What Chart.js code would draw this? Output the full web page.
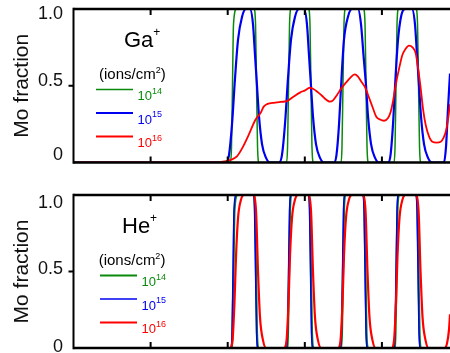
<!DOCTYPE html>
<html lang="en">
<head>
    <meta charset="UTF-8">
    <title>Mo fraction depth profiles</title>
    <style>
        html, body { margin: 0; padding: 0; overflow: hidden; background: #fff; }
        .panel { position: absolute; left: 0; width: 450px; }
        .panel canvas { display: block; }
        #gaPanel { top: -15px; height: 191px; }
        #hePanel { top: 176px; height: 192px; }
    </style>
    <script src="https://cdn.jsdelivr.net/npm/chart.js"></script>
</head>
<body>
    <div class="panel" id="gaPanel"><canvas id="gaChart" width="450" height="191"></canvas></div>
    <div class="panel" id="hePanel"><canvas id="heChart" width="450" height="192"></canvas></div>

    <script>
        // depth axis has tick marks only, no numbers
        const xTicks = [10, 20, 30, 40];
        const xMax = 48.83;
        const yTicks = [0, 0.5, 1];
        const yTickLabels = ['0', '0.5', '1.0'];
        const doseExps = ['14', '15', '16'];   // 10^x ions/cm2
        const colors = ['#0a8a0a', '#0000f0', '#ff0000'];

        // Ga+ : [depth, Mo fraction]
        const gaDose14 = [[0,0],[20.36,0],[20.49,0.1],[20.62,0.5],[20.75,0.9],[21.14,1],
            [23.41,1],[23.61,0.9],[23.74,0.5],[23.87,0.1],[24.06,0],
            [27.63,0],[27.76,0.1],[27.89,0.5],[28.02,0.9],[28.21,1],
            [30.48,1],[30.67,0.9],[30.80,0.5],[30.93,0.1],[31.13,0],
            [34.70,0],[34.82,0.1],[34.95,0.5],[35.08,0.9],[35.28,1],
            [37.61,1],[37.81,0.9],[37.94,0.5],[38.07,0.1],[38.26,0],
            [41.57,0],[41.70,0.1],[41.83,0.5],[41.96,0.9],[42.15,1],
            [44.42,1],[44.62,0.9],[44.75,0.5],[44.88,0.1],[45.07,0],
            [48.83,0]];
        const gaDose15 = [[0,0],[19.78,0],[20.17,0.05],[20.56,0.25],[20.95,0.55],[21.34,0.8],[21.86,0.95],[22.37,1],
            [22.89,1],[23.28,0.9],[23.54,0.7],[23.80,0.5],[24.06,0.3],[24.45,0.12],[24.97,0.03],[25.49,0],
            [26.65,0],[27.04,0.05],[27.43,0.25],[27.82,0.55],[28.21,0.8],[28.73,0.95],[29.25,1],
            [29.90,1],[30.28,0.9],[30.54,0.7],[30.80,0.5],[31.06,0.3],[31.45,0.12],[31.97,0.03],[32.49,0],
            [33.78,0],[34.11,0.05],[34.44,0.25],[34.76,0.55],[35.08,0.8],[35.60,0.95],[36.12,1],
            [36.90,1],[37.29,0.9],[37.61,0.7],[37.94,0.5],[38.20,0.3],[38.59,0.12],[39.11,0.03],[39.62,0],
            [40.79,0],[41.12,0.05],[41.44,0.25],[41.76,0.55],[42.09,0.8],[42.48,0.95],[43.00,1],
            [43.90,1],[44.29,0.9],[44.55,0.7],[44.81,0.5],[45.07,0.3],[45.46,0.12],[45.98,0.03],[46.50,0],
            [48.05,0],[48.31,0.1],[48.57,0.35],[48.83,0.58]];
        const gaDose16 = [[0,0],[18.5,0],[19.65,0.008],[20.56,0.02],[21.2,0.04],[21.85,0.09],[22.72,0.18],
            [23.58,0.277],[24.23,0.32],[24.67,0.364],[25.1,0.38],[26.14,0.39],[26.91,0.395],[27.69,0.40],
            [28.56,0.43],[29.42,0.457],[30.03,0.47],[30.64,0.487],[31.06,0.48],[31.71,0.457],[32.23,0.435],
            [32.75,0.41],[33.23,0.396],[33.66,0.405],[34.18,0.44],[34.73,0.483],[35.34,0.52],[35.86,0.55],
            [36.47,0.574],[36.9,0.56],[37.29,0.53],[37.77,0.494],[38.2,0.44],[38.72,0.37],[39.27,0.298],
            [39.75,0.28],[40.27,0.272],[40.79,0.29],[41.14,0.331],[41.44,0.40],[41.79,0.505],[42.22,0.61],
            [42.65,0.70],[43.06,0.74],[43.51,0.761],[43.97,0.75],[44.38,0.711],[44.68,0.62],[45.03,0.483],
            [45.33,0.35],[45.68,0.244],[46.11,0.17],[46.54,0.135],[47.08,0.13],[47.63,0.135],[47.99,0.16],
            [48.28,0.2],[48.57,0.28],[48.83,0.38]];

        // He+ : [depth, Mo fraction]
        const heDose14 = [[0,0],[20.49,0],[20.62,0.1],[20.75,0.5],[20.88,0.9],[21.27,1],
            [23.35,1],[23.54,0.9],[23.67,0.5],[23.80,0.1],[23.99,0],
            [27.69,0],[27.82,0.1],[27.95,0.5],[28.08,0.9],[28.27,1],
            [30.48,1],[30.67,0.9],[30.80,0.5],[30.93,0.1],[31.13,0],
            [34.70,0],[34.82,0.1],[34.95,0.5],[35.08,0.9],[35.28,1],
            [37.55,1],[37.74,0.9],[37.87,0.5],[38.00,0.1],[38.20,0],
            [41.63,0],[41.76,0.1],[41.89,0.5],[42.02,0.9],[42.22,1],
            [44.42,1],[44.62,0.9],[44.75,0.5],[44.88,0.1],[45.07,0],
            [48.83,0]];
        const heDose15 = [[0,0],[20.43,0],[20.56,0.1],[20.69,0.5],[20.82,0.9],[21.10,1],
            [23.35,1],[23.48,0.9],[23.61,0.5],[23.74,0.1],[23.93,0],
            [27.63,0],[27.76,0.1],[27.89,0.5],[28.02,0.9],[28.21,1],
            [30.48,1],[30.61,0.9],[30.74,0.5],[30.87,0.1],[31.06,0],
            [34.63,0],[34.76,0.1],[34.89,0.5],[35.02,0.9],[35.21,1],
            [37.55,1],[37.68,0.9],[37.81,0.5],[37.94,0.1],[38.13,0],
            [41.57,0],[41.70,0.1],[41.83,0.5],[41.96,0.9],[42.15,1],
            [44.42,1],[44.55,0.9],[44.68,0.5],[44.81,0.1],[45.01,0],
            [48.83,0]];
        const heDose16 = [[0,0],[20.30,0],[20.62,0.05],[20.88,0.3],[21.08,0.6],[21.34,0.85],[21.73,0.97],[22.11,1],
            [23.28,1],[23.67,0.9],[23.93,0.5],[24.19,0.2],[24.58,0.05],[24.97,0],
            [27.30,0],[27.63,0.05],[27.89,0.3],[28.08,0.6],[28.34,0.85],[28.73,0.97],[29.12,1],
            [30.41,1],[30.80,0.9],[31.06,0.5],[31.32,0.2],[31.71,0.05],[32.10,0],
            [34.31,0],[34.63,0.05],[34.89,0.3],[35.08,0.6],[35.34,0.85],[35.73,0.97],[36.12,1],
            [37.48,1],[37.87,0.9],[38.13,0.5],[38.39,0.2],[38.78,0.05],[39.17,0],
            [41.25,0],[41.57,0.05],[41.83,0.3],[42.02,0.6],[42.28,0.85],[42.67,0.97],[43.06,1],
            [44.36,1],[44.75,0.9],[45.01,0.5],[45.27,0.2],[45.66,0.05],[46.04,0],
            [48.12,0],[48.44,0.03],[48.70,0.12],[48.83,0.22]];

        const FONT = '"Liberation Sans", Arial, sans-serif';

        // draws base text with a raised small part, returns total width
        function supText(ctx, base, sup, x, y, size, supSize, rise) {
            ctx.font = size + 'px ' + FONT;
            ctx.fillText(base, x, y);
            const w = ctx.measureText(base).width;
            ctx.font = supSize + 'px ' + FONT;
            ctx.fillText(sup, x + w, y - rise);
            return w + ctx.measureText(sup).width;
        }

        const panelPlugin = {
            id: 'panel',
            afterDatasetsDraw(chart) {
                // frame and inward depth ticks drawn over the curves
                const {ctx, chartArea: a, scales: {x, y}} = chart;
                ctx.save();
                ctx.strokeStyle = '#000';
                ctx.lineWidth = 2.5;
                ctx.beginPath();
                ctx.moveTo(a.left, a.top); ctx.lineTo(a.right, a.top);
                ctx.moveTo(a.left, a.bottom); ctx.lineTo(a.right, a.bottom);
                ctx.stroke();
                ctx.lineWidth = 2;
                ctx.beginPath();
                ctx.moveTo(a.left, a.top - 1.25); ctx.lineTo(a.left, a.bottom + 1.25);
                xTicks.forEach(v => {
                    const px = x.getPixelForValue(v);
                    ctx.moveTo(px, a.top); ctx.lineTo(px, a.top + 6);
                    ctx.moveTo(px, a.bottom); ctx.lineTo(px, a.bottom - 6);
                });
                // outward tick only between the ends of the y axis
                yTicks.filter(v => v > 0 && v < 1).forEach(v => {
                    const py = y.getPixelForValue(v);
                    ctx.moveTo(a.left - 5, py); ctx.lineTo(a.left, py);
                });
                ctx.stroke();
                ctx.restore();
            },
            afterDraw(chart, args, opts) {
                const {ctx, chartArea: a, scales: {y}} = chart;
                ctx.save();
                // y tick labels
                ctx.fillStyle = '#111';
                ctx.font = '18px ' + FONT;
                ctx.textAlign = 'right';
                ctx.textBaseline = 'middle';
                yTicks.forEach((v, i) => {
                    ctx.fillText(yTickLabels[i], a.left - 10.5, y.getPixelForValue(v) + opts.labelShift[i]);
                });
                ctx.textAlign = 'left';
                ctx.textBaseline = 'alphabetic';
                ctx.fillStyle = '#000';
                supText(ctx, opts.ion, '+', a.left + opts.ionX, a.top + 37.7, 22, 12, 11);
                const w = supText(ctx, '(ions/cm', '2', a.left + opts.unitX, a.top + 69.5, 15, 9, 6);
                ctx.font = '15px ' + FONT;
                ctx.fillText(')', a.left + opts.unitX + w, a.top + 69.5);
                chart.data.datasets.forEach((ds, i) => {
                    const ly = a.top + 80.5 + i * 23.5;
                    ctx.strokeStyle = ds.borderColor;
                    ctx.lineWidth = ds.borderWidth;
                    ctx.beginPath();
                    ctx.moveTo(a.left + opts.lineX, ly);
                    ctx.lineTo(a.left + opts.lineX + 37, ly);
                    ctx.stroke();
                    ctx.fillStyle = ds.borderColor;
                    supText(ctx, '10', doseExps[i], a.left + opts.lineX + 41.5, ly + 10.5, 13, 9, 6.5);
                });
                ctx.restore();
            }
        };

        function makeChart(id, series, widths, panelOpts, pad) {
            const datasets = series.map((s, i) => ({
                label: '10^' + doseExps[i],
                data: s.map(([x, y]) => ({x, y})),
                borderColor: colors[i],
                borderWidth: widths[i],
                pointRadius: 0,
                fill: false,
                cubicInterpolationMode: 'monotone',
                order: 2 - i   // red on top
            }));
            return new Chart(document.getElementById(id), {
                type: 'line',
                data: {datasets},
                plugins: [panelPlugin],
                options: {
                    responsive: false,
                    animation: false,
                    layout: {padding: pad},
                    plugins: {
                        legend: {display: false},
                        tooltip: {enabled: false},
                        panel: panelOpts
                    },
                    scales: {
                        x: {type: 'linear', min: 0, max: xMax, display: false},
                        y: {
                            min: 0, max: 1,
                            afterBuildTicks: s => { s.ticks = yTicks.map(v => ({value: v})); },
                            afterFit: s => { s.width = 73.5; },
                            border: {display: false},
                            grid: {display: false},
                            ticks: {display: false},
                            title: {
                                display: true,
                                text: 'Mo fraction',
                                color: '#111',
                                font: {size: 21, family: FONT},
                                padding: {top: 10, bottom: 0}
                            }
                        }
                    }
                }
            });
        }

        makeChart('gaChart', [gaDose14, gaDose15, gaDose16], [1.5, 2.2, 1.8],
            {ion: 'Ga', ionX: 50.5, unitX: 25.5, lineX: 22.5, labelShift: [-7, -5, 5.5]},
            {top: 24, bottom: 13.5, left: 0, right: 0});
        makeChart('heChart', [heDose14, heDose15, heDose16], [2.2, 1.5, 2.2],
            {ion: 'He', ionX: 48.5, unitX: 25.2, lineX: 26.5, labelShift: [-1, -2.5, 8]},
            {top: 19, bottom: 20, left: 0, right: 0});
    </script>
</body>
</html>
